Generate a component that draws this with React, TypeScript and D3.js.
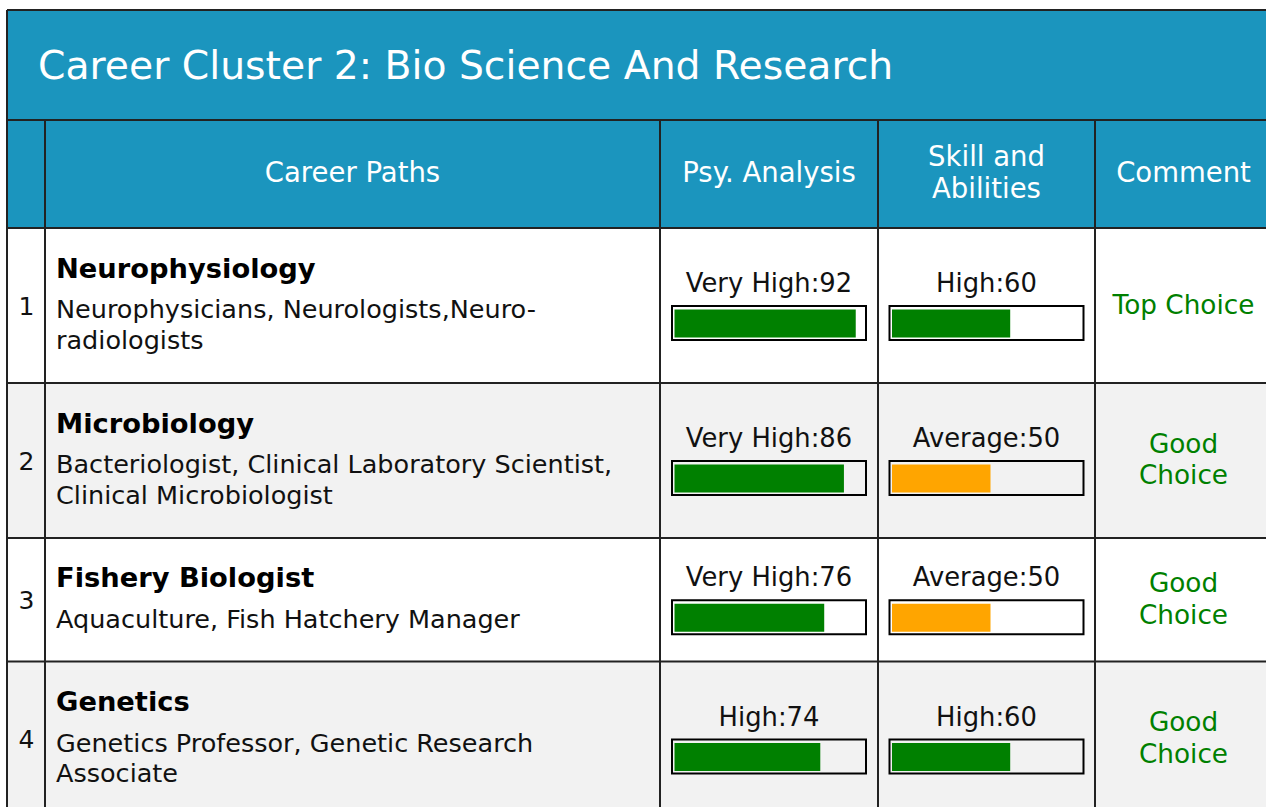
import React, { useEffect, useRef } from 'react';
import * as d3 from 'd3';

const clusterTitle = 'Career Cluster 2: Bio Science And Research';
const headers = [[''], ['Career Paths'], ['Psy. Analysis'], ['Skill and', 'Abilities'], ['Comment']];

const careerTitles = ['Neurophysiology', 'Microbiology', 'Fishery Biologist', 'Genetics'];
const careerDetails = [
  ['Neurophysicians, Neurologists,Neuro-', 'radiologists'],
  ['Bacteriologist, Clinical Laboratory Scientist,', 'Clinical Microbiologist'],
  ['Aquaculture, Fish Hatchery Manager'],
  ['Genetics Professor, Genetic Research', 'Associate'],
];
const psyLevels = ['Very High', 'Very High', 'Very High', 'High'];
const psyScores = [92, 86, 76, 74];
const skillLevels = ['High', 'Average', 'Average', 'High'];
const skillScores = [60, 50, 50, 60];
const comments = [['Top Choice'], ['Good', 'Choice'], ['Good', 'Choice'], ['Good', 'Choice']];

const FONT = '"DejaVu Sans", Verdana, sans-serif';
const BLUE = '#1b95be';
const LINE = '#222';

const App: React.FC = () => {
  const svgRef = useRef<SVGSVGElement>(null);

  useEffect(() => {
    if (!svgRef.current) return;
    const width = 1266;
    const height = 807;

    d3.select(svgRef.current).selectAll('*').remove();
    const svg = d3.select(svgRef.current)
      .attr('width', width)
      .attr('height', height)
      .style('font-family', FONT);

    // table geometry
    const left = 7;
    const top = 10;
    const titleBottom = 120;
    const headBottom = 228;
    const colEdges = [left, 45, 660, 878, 1095, 1272];
    const rowHeights = careerDetails.map(d => 92 + 31.5 * d.length);
    const rowTops = [headBottom, ...Array.from(d3.cumsum(rowHeights), v => headBottom + v)];

    const colCenter = (i: number) => (colEdges[i] + colEdges[i + 1]) / 2;

    // backgrounds
    svg.append('rect')
      .attr('x', left).attr('y', top)
      .attr('width', width - left + 10).attr('height', headBottom - top)
      .attr('fill', BLUE);

    svg.selectAll('rect.rowbg')
      .data(careerTitles)
      .enter()
      .append('rect')
      .attr('class', 'rowbg')
      .attr('x', left)
      .attr('y', (_, i) => rowTops[i])
      .attr('width', width - left + 10)
      .attr('height', (_, i) => rowHeights[i])
      .attr('fill', (_, i) => (i % 2 === 1 ? '#f2f2f2' : '#ffffff'));

    // title
    svg.append('text')
      .attr('x', 38).attr('y', 79)
      .attr('fill', '#fff')
      .attr('font-size', 39.3)
      .text(clusterTitle);

    // header labels
    headers.forEach((lines, i) => {
      const c = (titleBottom + headBottom) / 2;
      lines.forEach((ln, j) => {
        svg.append('text')
          .attr('x', colCenter(i))
          .attr('y', c + 8 + (j - (lines.length - 1) / 2) * 32.5)
          .attr('text-anchor', 'middle')
          .attr('fill', '#fff')
          .attr('font-size', 27.5)
          .text(ln);
      });
    });

    const barScale = d3.scaleLinear().domain([0, 100]).range([0, 197]);
    const barColor = (level: string) => (level === 'Average' ? '#ffa500' : '#008000');

    careerTitles.forEach((title, i) => {
      const c = rowTops[i] + rowHeights[i] / 2;
      const g = svg.append('g');

      // row number
      g.append('text')
        .attr('x', colCenter(0) + 0.5).attr('y', c + 9)
        .attr('text-anchor', 'middle')
        .attr('font-size', 25)
        .attr('fill', '#111')
        .text(i + 1);

      // career path title and details
      const n = careerDetails[i].length;
      const titleY = c - 28 + 15.25 * (2 - n);
      g.append('text')
        .attr('x', 56).attr('y', titleY)
        .attr('font-size', 27.3)
        .attr('font-weight', 'bold')
        .attr('fill', '#000')
        .text(title);
      careerDetails[i].forEach((ln, j) => {
        g.append('text')
          .attr('x', 56).attr('y', titleY + 40.5 + 30.5 * j)
          .attr('font-size', 25.5)
          .attr('fill', '#111')
          .text(ln);
      });

      // score bars
      const cells = [
        { col: 2, level: psyLevels[i], score: psyScores[i] },
        { col: 3, level: skillLevels[i], score: skillScores[i] },
      ];
      cells.forEach(cell => {
        const cx = colCenter(cell.col);
        g.append('text')
          .attr('x', cx).attr('y', c - 13.5)
          .attr('text-anchor', 'middle')
          .attr('font-size', 25.8)
          .attr('fill', '#111')
          .text(`${cell.level}:${cell.score}`);
        const boxX = cx - 98;
        g.append('rect')
          .attr('x', boxX + 1).attr('y', c + 0.5)
          .attr('width', 194).attr('height', 34)
          .attr('fill', 'none')
          .attr('stroke', '#000')
          .attr('stroke-width', 2);
        g.append('rect')
          .attr('x', boxX + 3.5).attr('y', c + 4)
          .attr('width', barScale(cell.score)).attr('height', 28)
          .attr('fill', barColor(cell.level));
      });

      // comment
      const lines = comments[i];
      lines.forEach((ln, j) => {
        g.append('text')
          .attr('x', colCenter(4))
          .attr('y', c + 8 + (j - (lines.length - 1) / 2) * 31.5)
          .attr('text-anchor', 'middle')
          .attr('font-size', 26.3)
          .attr('fill', '#008000')
          .text(ln);
      });
    });

    // grid lines
    const bottom = rowTops[rowTops.length - 1];
    const hLines = [top, titleBottom, ...rowTops];
    svg.selectAll('line.h')
      .data(hLines)
      .enter()
      .append('line')
      .attr('x1', left).attr('x2', width + 10)
      .attr('y1', d => d).attr('y2', d => d)
      .attr('stroke', LINE).attr('stroke-width', 2);

    svg.append('line')
      .attr('x1', left).attr('x2', left)
      .attr('y1', top).attr('y2', bottom)
      .attr('stroke', LINE).attr('stroke-width', 2);

    svg.selectAll('line.v')
      .data(colEdges.slice(1, 5))
      .enter()
      .append('line')
      .attr('x1', d => d).attr('x2', d => d)
      .attr('y1', titleBottom).attr('y2', bottom)
      .attr('stroke', LINE).attr('stroke-width', 2);
  }, []);

  return (
    <div style={{ position: 'fixed', left: 0, top: 0, width: 1266, height: 807, overflow: 'hidden', background: '#fff' }}>
      <svg ref={svgRef} style={{ display: 'block' }}></svg>
    </div>
  );
};

export default App;
